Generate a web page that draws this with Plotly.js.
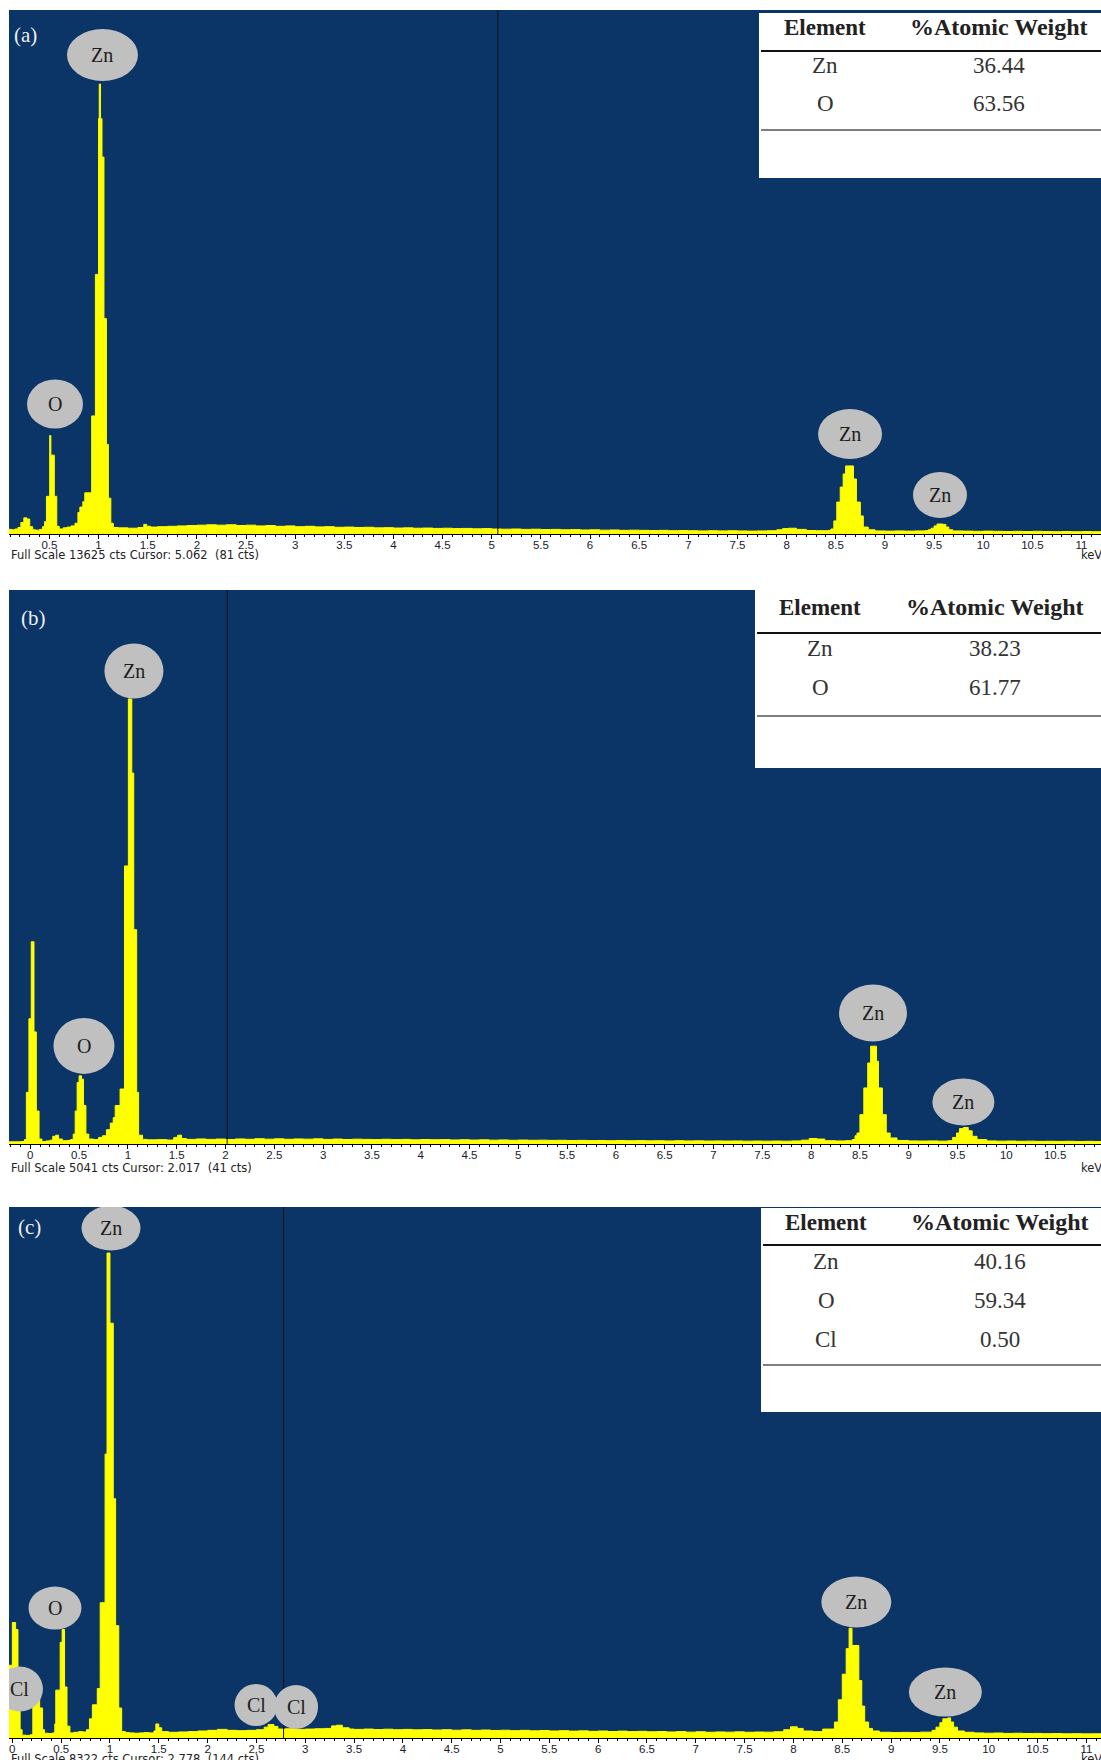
<!DOCTYPE html>
<html><head><meta charset="utf-8">
<script src="https://cdn.plot.ly/plotly-3.0.1.min.js"></script>
<style>html,body{margin:0;padding:0;background:#fff;}#chart{width:1101px;height:1760px;}</style>
</head><body><div id="chart"></div>
<script>
// ---------------- DATA ----------------
const panelNames = ['(a)', '(b)', '(c)'];
const fullScaleCts = [13625, 5041, 8322];
const cursorKeV = [5.062, 2.017, 2.778];
const cursorCts = [81, 41, 144];

// Panel (a) spectrum: energy (keV) and counts
const aKeV = [0.08,0.12,0.15,0.18,0.21,0.24,0.27,0.30,0.33,0.36,0.40,0.43,0.45,0.47,0.503,0.515,0.55,0.575,0.60,0.64,0.68,0.72,0.76,0.79,0.81,0.84,0.86,0.93,0.968,1.0,1.007,1.02,1.035,1.055,1.08,1.10,1.125,1.15,1.2,1.3,1.4,1.46,1.49,1.53,1.6,1.7,1.8,1.9,2.0,2.1,2.2,2.3,2.4,2.5,2.6,2.7,2.8,2.9,3.0,3.1,3.2,3.3,3.4,3.5,3.6,3.7,3.8,3.9,4.0,4.1,4.2,4.3,4.4,4.5,4.6,4.7,4.8,4.9,5.0,5.1,5.2,5.3,5.4,5.5,5.6,5.7,5.8,5.9,6.0,6.1,6.2,6.3,6.4,6.5,6.6,6.7,6.8,6.9,7.0,7.1,7.2,7.3,7.4,7.5,7.6,7.7,7.8,7.9,7.96,8.02,8.1,8.2,8.3,8.42,8.45,8.48,8.51,8.545,8.575,8.6,8.68,8.71,8.75,8.78,8.83,8.9,9.0,9.1,9.2,9.3,9.4,9.44,9.47,9.5,9.53,9.59,9.62,9.65,9.69,9.8,9.9,10.0,10.1,10.2,10.3,10.4,10.5,10.6,10.7,10.8,10.9,11.0,11.1,11.2];
const aCts = [120,110,130,170,300,420,390,190,110,100,120,190,320,980,2560,2050,980,200,130,160,180,210,280,560,700,840,1070,3070,6750,10800,11700,10800,9800,5600,2330,930,280,170,160,150,170,250,200,180,190,200,210,220,230,240,230,240,220,230,210,220,200,210,190,200,185,190,175,180,170,175,160,165,155,160,150,155,145,150,140,145,135,140,130,125,130,120,125,115,120,110,115,105,110,100,105,95,100,95,90,95,85,90,85,80,85,80,85,80,75,80,85,110,140,150,120,90,85,90,130,340,830,1220,1560,1770,1430,830,470,180,110,80,75,80,75,80,85,110,150,210,260,250,180,110,80,75,70,75,70,65,70,65,70,65,60,65,60,65,60,60];

// Panel (b) spectrum
const bKeV = [-0.25,-0.1,-0.06,-0.04,-0.014,0.01,0.038,0.062,0.09,0.12,0.16,0.2,0.23,0.26,0.29,0.33,0.37,0.41,0.44,0.46,0.48,0.50,0.525,0.545,0.57,0.6,0.65,0.70,0.74,0.78,0.82,0.85,0.87,0.92,0.965,1.005,1.04,1.06,1.09,1.11,1.15,1.2,1.3,1.4,1.47,1.51,1.55,1.6,1.7,1.8,1.9,2.0,2.1,2.2,2.3,2.4,2.5,2.6,2.7,2.8,2.9,3.0,3.1,3.2,3.3,3.4,3.5,3.6,3.7,3.8,3.9,4.0,4.1,4.2,4.3,4.4,4.5,4.6,4.7,4.8,4.9,5.0,5.1,5.2,5.3,5.4,5.5,5.6,5.7,5.8,5.9,6.0,6.1,6.2,6.3,6.4,6.5,6.6,6.7,6.8,6.9,7.0,7.1,7.2,7.3,7.4,7.5,7.6,7.7,7.8,7.9,7.98,8.06,8.14,8.25,8.35,8.42,8.45,8.47,8.5,8.54,8.58,8.61,8.67,8.69,8.73,8.77,8.81,8.88,9.0,9.1,9.2,9.3,9.4,9.45,9.49,9.52,9.56,9.61,9.65,9.7,9.8,9.9,10.0,10.1,10.2,10.3,10.4,10.5,10.6,10.7,10.8,10.9,11.0];
const bCts = [20,22,40,470,1140,1840,1020,300,45,22,28,35,70,80,45,30,32,40,90,300,560,620,590,350,90,45,40,60,75,130,190,240,350,500,2530,4050,3375,1950,470,80,42,38,40,36,60,80,50,42,46,42,45,41,46,43,48,44,47,43,46,44,47,42,45,41,44,42,40,43,40,42,38,41,39,40,37,39,36,38,35,37,34,36,34,35,33,34,32,33,31,32,30,32,30,31,29,30,28,30,28,29,27,28,27,28,26,27,26,27,26,28,35,50,45,30,28,30,40,75,100,267,510,737,890,753,510,267,100,55,32,28,27,28,26,30,60,100,140,150,120,70,40,28,26,27,25,26,24,25,24,25,23,24,23,22];

// Panel (c) spectrum
const cKeV = [-0.05,0.0,0.034,0.058,0.08,0.1,0.14,0.18,0.21,0.245,0.28,0.31,0.33,0.37,0.41,0.435,0.445,0.49,0.51,0.535,0.56,0.59,0.63,0.68,0.72,0.76,0.79,0.82,0.87,0.9,0.95,0.97,1.0,1.034,1.058,1.09,1.12,1.16,1.2,1.25,1.3,1.35,1.4,1.45,1.47,1.5,1.53,1.6,1.7,1.8,1.9,2.0,2.1,2.2,2.3,2.4,2.5,2.58,2.62,2.68,2.72,2.8,2.9,3.0,3.1,3.2,3.27,3.32,3.38,3.45,3.5,3.6,3.7,3.8,3.9,4.0,4.1,4.2,4.3,4.4,4.5,4.6,4.7,4.8,4.9,5.0,5.1,5.2,5.3,5.4,5.5,5.6,5.7,5.8,5.9,6.0,6.1,6.2,6.3,6.4,6.5,6.6,6.7,6.8,6.9,7.0,7.1,7.2,7.3,7.4,7.5,7.6,7.7,7.8,7.9,7.97,8.04,8.1,8.2,8.3,8.42,8.46,8.5,8.54,8.57,8.6,8.67,8.7,8.73,8.77,8.81,8.88,9.0,9.1,9.2,9.3,9.42,9.46,9.5,9.53,9.58,9.61,9.64,9.68,9.75,9.85,9.95,10.05,10.15,10.25,10.35,10.45,10.55,10.65,10.75,10.85,10.95,11.05,11.15];
const cCts = [1140,1810,1700,580,130,45,40,50,580,830,470,130,75,70,80,220,750,1500,1700,800,185,80,90,100,95,130,300,520,775,2120,4450,7600,6500,3750,1760,470,100,85,80,75,80,85,80,110,220,160,100,90,95,100,110,120,135,120,115,120,130,170,210,180,140,144,135,140,145,150,190,200,160,140,135,140,132,138,130,135,128,132,125,130,122,128,120,125,118,122,115,120,112,118,110,115,108,112,105,110,102,108,100,105,98,102,95,100,92,98,90,95,92,96,90,94,92,98,130,175,150,110,100,140,250,600,1000,1400,1720,1450,900,500,250,150,110,90,85,88,85,92,120,170,240,300,315,250,170,110,90,80,75,78,72,75,70,72,68,70,66,68,65,66,64];

// EDS result tables
const tableElements = [['Zn','O'], ['Zn','O'], ['Zn','O','Cl']];
const tableWeights = [['36.44','63.56'], ['38.23','61.77'], ['40.16','59.34','0.50']];

// Peak labels (element text per panel)
const peakLabels = [
  ['Zn','O','Zn','Zn'],
  ['Zn','O','Zn','Zn'],
  ['Zn','O','Cl','Cl','Cl','Zn','Zn']
];

// ---------------- LAYOUT ----------------
const W = 1101, H = 1760;
const px = x => x / W;
const py = y => 1 - y / H;

const spectra = [[aKeV, aCts], [bKeV, bCts], [cKeV, cCts]];
// plot areas (pixels): top, bottom(axis)
const areas = [{top:10, bot:534, xr:[0.089, 11.198]}, {top:590, bot:1144, xr:[-0.218, 10.97]}, {top:1207, bot:1738, xr:[-0.034, 11.15]}];

// label placements: [keV, counts, width px, height px]
const labelPos = [
  [[1.040,12454,71,52],[0.557,3380,56,49],[8.645,2600,64,50],[9.56,1014,54,46]],
  [[1.062,4304,59,55],[0.55,892,61,56],[8.634,1192,68,57],[9.56,382,62,47]],
  [[1.011,7992,59,45],[0.437,2037,53,43],[0.078,768,46,45],[2.496,517,43,42],[2.906,486,44,44],[8.644,2131,70,51],[9.556,721,73,49]]
];

// tables layout (pixels)
const tables = [
  {l:759, t:13, b:178, hy:27, hl:51, rows:[66,104], bl:130, c1:825, c2:999},
  {l:755, t:590, b:768, hy:607, hl:633, rows:[648,688], bl:716, c1:820, c2:995},
  {l:761, t:1208, b:1412, hy:1222, hl:1245, rows:[1261,1300,1339], bl:1365, c1:826, c2:1000}
];
const panelLabelPos = [[25,35],[33,618],[29,1227]];
const footY = [555, 1168, 1759];

const BG = '#0a3566';
const YEL = '#ffff00';
const serif = 'Liberation Serif, Times New Roman, serif';
const sans = 'Liberation Sans, Arial, sans-serif';
const wide = 'DejaVu Sans, Verdana, sans-serif';

const traces = [];
const layout = {
  width: W, height: H,
  margin: {l:0, r:0, t:0, b:0},
  paper_bgcolor: '#ffffff',
  plot_bgcolor: BG,
  showlegend: false,
  shapes: [], annotations: []
};

spectra.forEach((s, i) => {
  const n = i === 0 ? '' : String(i + 1);
  const A = areas[i];
  traces.push({
    type: 'scatter', mode: 'lines', x: s[0], y: s[1],
    xaxis: 'x' + n, yaxis: 'y' + n,
    line: {shape: 'hv', color: YEL, width: 1},
    fill: 'tozeroy', fillcolor: YEL, hoverinfo: 'skip'
  });
  layout['xaxis' + n] = {
    domain: [px(9), 1], range: A.xr, anchor: 'y' + n,
    showgrid: false, zeroline: false, showline: true, linecolor: '#000', linewidth: 1,
    ticks: 'outside', ticklen: 4, tickcolor: '#000', tickwidth: 1,
    dtick: 0.5, tick0: 0, ticklabelstandoff: -4,
    minor: {dtick: 0.1, tick0: 0, ticks: 'outside', ticklen: 2, tickcolor: '#000', showgrid: false},
    tickfont: {family: sans, size: 11.5, color: '#1a1a2e'},
    fixedrange: true
  };
  layout['yaxis' + n] = {
    domain: [py(A.bot), py(A.top)], range: [0, fullScaleCts[i]], anchor: 'x' + n,
    visible: false, showgrid: false, zeroline: false, fixedrange: true
  };
  // cursor line
  layout.shapes.push({type:'line', xref:'x'+n, yref:'y'+n+' domain', x0: cursorKeV[i], x1: cursorKeV[i], y0:0, y1:1,
    line:{color:'#111111', width:1}});
  // peak label ellipses
  peakLabels[i].forEach((t, k) => {
    const p = labelPos[i][k];
    layout.shapes.push({type:'circle', xref:'x'+n, yref:'y'+n, xsizemode:'pixel', ysizemode:'pixel',
      xanchor:p[0], yanchor:p[1], x0:-p[2]/2, x1:p[2]/2, y0:-p[3]/2, y1:p[3]/2,
      fillcolor:'#c0c0c0', line:{width:0}});
    layout.annotations.push({xref:'x'+n, yref:'y'+n, x:p[0], y:p[1], text:t, showarrow:false,
      font:{family:serif, size:20, color:'#1e1e1e'}, xanchor:'center', yanchor:'middle'});
  });
  // table
  const T = tables[i];
  layout.shapes.push({type:'rect', xref:'paper', yref:'paper', x0:px(T.l), x1:1, y0:py(T.b), y1:py(T.t),
    fillcolor:'#ffffff', line:{width:0}});
  layout.shapes.push({type:'line', xref:'paper', yref:'paper', x0:px(T.l+2), x1:1, y0:py(T.hl), y1:py(T.hl),
    line:{color:'#111', width:2}});
  layout.shapes.push({type:'line', xref:'paper', yref:'paper', x0:px(T.l+2), x1:1, y0:py(T.bl), y1:py(T.bl),
    line:{color:'#555', width:1.5}});
  layout.annotations.push({xref:'paper', yref:'paper', x:px(T.c1), y:py(T.hy), text:'<b>Element</b>', showarrow:false,
    font:{family:serif, size:23, color:'#222'}, xanchor:'center', yanchor:'middle'});
  layout.annotations.push({xref:'paper', yref:'paper', x:px(T.c2), y:py(T.hy), text:'<b>%Atomic Weight</b>', showarrow:false,
    font:{family:serif, size:24, color:'#222'}, xanchor:'center', yanchor:'middle'});
  tableElements[i].forEach((el, r) => {
    layout.annotations.push({xref:'paper', yref:'paper', x:px(T.c1), y:py(T.rows[r]), text:el, showarrow:false,
      font:{family:serif, size:23, color:'#333'}, xanchor:'center', yanchor:'middle'});
    layout.annotations.push({xref:'paper', yref:'paper', x:px(T.c2), y:py(T.rows[r]), text:tableWeights[i][r], showarrow:false,
      font:{family:serif, size:23, color:'#333'}, xanchor:'center', yanchor:'middle'});
  });
  // panel label
  layout.annotations.push({xref:'paper', yref:'paper', x:px(panelLabelPos[i][0]), y:py(panelLabelPos[i][1]), text:panelNames[i],
    showarrow:false, font:{family:serif, size:21, color:'#eeeeee'}, xanchor:'center', yanchor:'middle'});
  // footer
  layout.annotations.push({xref:'paper', yref:'paper', x:px(9), y:py(footY[i]),
    text:'Full Scale ' + fullScaleCts[i] + ' cts Cursor: ' + cursorKeV[i].toFixed(3) + ' \u00a0(' + cursorCts[i] + ' cts)',
    showarrow:false, font:{family:wide, size:11.5, color:'#222'}, xanchor:'left', yanchor:'middle'});
  layout.annotations.push({xref:'paper', yref:'paper', x:px(1079), y:py(footY[i]), text:'keV',
    showarrow:false, font:{family:wide, size:11.5, color:'#222'}, xanchor:'left', yanchor:'middle'});
});

Plotly.newPlot('chart', traces, layout, {staticPlot: true, displayModeBar: false});
</script></body></html>
